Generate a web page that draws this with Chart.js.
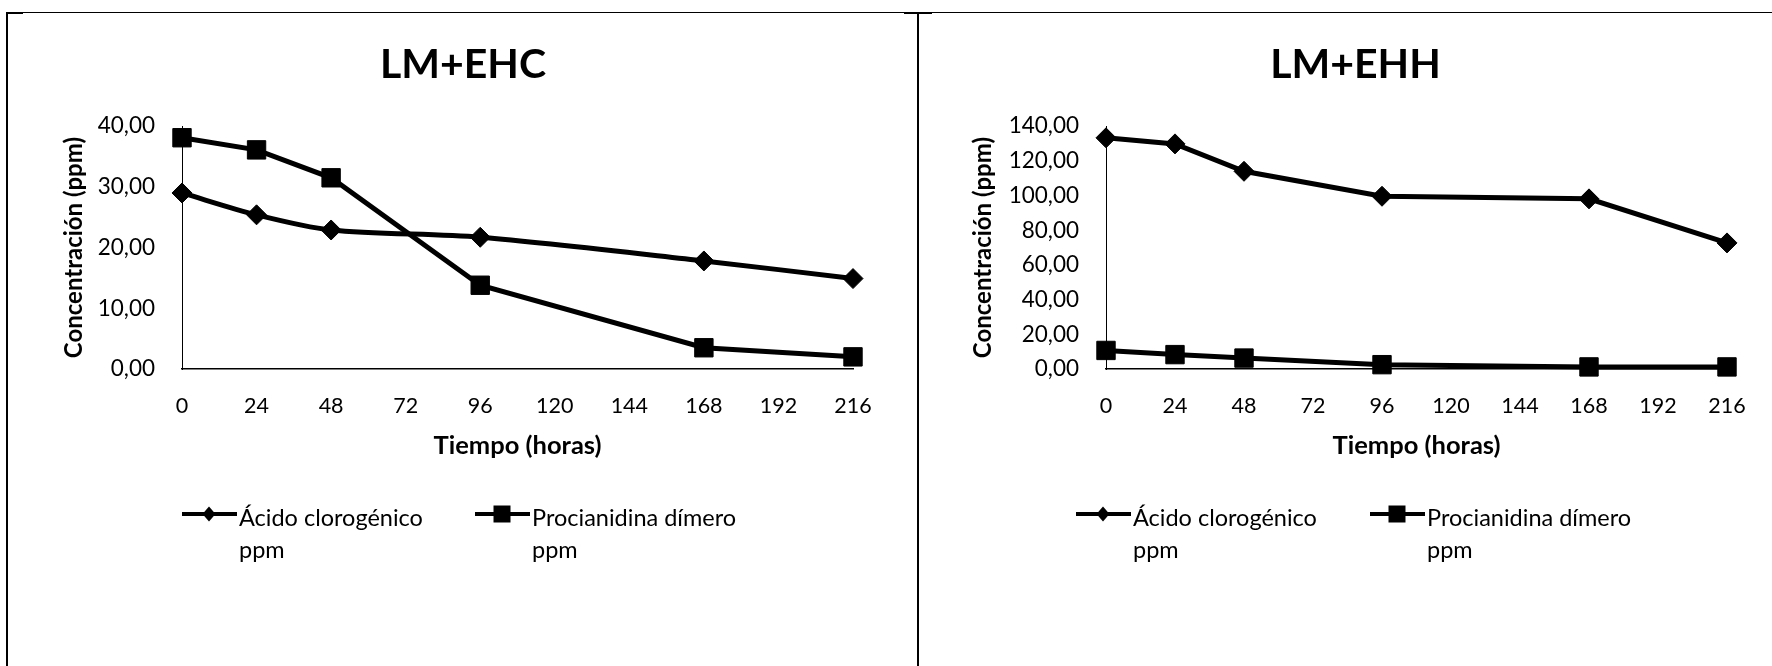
<!DOCTYPE html>
<html>
<head>
<meta charset="utf-8">
<script src="https://cdn.jsdelivr.net/npm/chart.js@4.4.1/dist/chart.umd.min.js"></script>
<style>
body{margin:0;width:1772px;height:666px;overflow:hidden;background:#fff;position:relative}
.box{position:absolute;top:13px;height:653px}
#boxL{left:8px;width:910px}
#boxR{left:919px;width:873px}
.ln{position:absolute;background:#000}
</style>
</head>
<body>
<div class="box" id="boxL"><canvas id="chartL" width="910" height="653"></canvas></div>
<div class="box" id="boxR"><canvas id="chartR" width="873" height="653"></canvas></div>
<!-- table borders -->
<div class="ln" style="left:7px;top:12px;width:1765px;height:1px"></div>
<div class="ln" style="left:6px;top:12px;width:2px;height:654px"></div>
<div class="ln" style="left:7px;top:12px;width:16px;height:2px"></div>
<div class="ln" style="left:917px;top:12px;width:2px;height:654px"></div>
<div class="ln" style="left:904px;top:12px;width:28px;height:2px"></div>
<script>
// horas de muestreo
var horas = [0, 24, 48, 96, 168, 216];
var titulos = ['LM+EHC', 'LM+EHH'];
var series = [['Ácido clorogénico', 'ppm'], ['Procianidina dímero', 'ppm']];

// LM+EHC
var acidoEHC = [29.0, 25.4, 22.9, 21.7, 17.8, 14.9];
var procEHC = [38.1, 36.1, 31.5, 13.8, 3.5, 2.0];
// LM+EHH
var acidoEHH = [133.3, 129.8, 114.0, 99.6, 98.1, 72.7];
var procEHH = [10.7, 8.3, 6.3, 2.5, 1.2, 1.2];

var yMaxEHC = 40, yStepEHC = 10;
var yMaxEHH = 140, yStepEHH = 20;

function toXY(vals){
    var pts = [];
    for(var i = 0; i < horas.length; i++){
        pts.push({x: horas[i], y: vals[i]});
    }
    return pts;
}

function coma(v){
    return v.toFixed(2).replace('.', ',');
}

// legend drawn by hand (two-line labels)
function makeLegend(startX, lineY){
    return {
        id: 'leyenda',
        afterDraw: function(chart){
            var ctx = chart.ctx;
            ctx.save();
            for(var i = 0; i < series.length; i++){
                var x0 = startX[i];
                ctx.strokeStyle = '#000';
                ctx.lineWidth = 4;
                ctx.beginPath();
                ctx.moveTo(x0, lineY);
                ctx.lineTo(x0 + 55, lineY);
                ctx.stroke();
                ctx.fillStyle = '#000';
                var cx = x0 + 27;
                ctx.beginPath();
                if(i == 0){
                    ctx.moveTo(cx, lineY - 7.5);
                    ctx.lineTo(cx + 6.5, lineY);
                    ctx.lineTo(cx, lineY + 7.5);
                    ctx.lineTo(cx - 6.5, lineY);
                }else{
                    ctx.rect(cx - 8.5, lineY - 8.5, 17, 17);
                }
                ctx.closePath();
                ctx.fill();
                ctx.font = '23.5px Lato';
                ctx.textBaseline = 'alphabetic';
                ctx.textAlign = 'left';
                ctx.fillText(series[i][0], x0 + 57, lineY + 12);
                ctx.fillText(series[i][1], x0 + 57, lineY + 44);
            }
            ctx.restore();
        }
    };
}

function buildChart(id, titulo, acido, proc, yMax, yStep, yTitlePad, tension, legendX){
    var ctx = document.getElementById(id).getContext('2d');
    return new Chart(ctx, {
        type: 'line',
        data: {
            datasets: [{
                label: series[0].join(' '),
                data: toXY(acido),
                borderColor: '#000',
                backgroundColor: '#000',
                borderWidth: 5,
                tension: tension,
                pointStyle: 'rectRot',
                pointRadius: 10,
                pointBorderWidth: 1,
                clip: false
            }, {
                label: series[1].join(' '),
                data: toXY(proc),
                borderColor: '#000',
                backgroundColor: '#000',
                borderWidth: 5,
                tension: 0,
                pointStyle: 'rect',
                pointRadius: 13,
                pointBorderWidth: 1,
                clip: false
            }]
        },
        options: {
            responsive: false,
            animation: false,
            layout: {padding: {left: 0, right: 0, top: 0, bottom: 197}},
            plugins: {
                legend: {display: false},
                tooltip: {enabled: false},
                title: {
                    display: true,
                    text: titulo,
                    color: '#000',
                    font: {family: 'Lato', size: 41, weight: 'bold'},
                    padding: {top: 27, bottom: 37}
                }
            },
            scales: {
                x: {
                    type: 'linear',
                    min: 0,
                    max: 216,
                    grid: {display: false, drawTicks: false},
                    border: {display: true, color: '#000', width: 1.5},
                    ticks: {stepSize: 24, color: '#000', padding: 24, font: {family: 'Lato', size: 21.5}},
                    title: {display: true, text: 'Tiempo (horas)', color: '#000', font: {family: 'Lato', size: 25.5, weight: 'bold'}, padding: {top: 0, bottom: 8}},
                    afterFit: function(s){ s.height = 100; }
                },
                y: {
                    min: 0,
                    max: yMax,
                    grid: {display: false, drawTicks: false},
                    border: {display: true, color: '#000', width: 1},
                    ticks: {stepSize: yStep, color: '#000', padding: 27, font: {family: 'Lato', size: 22.5}, callback: function(v){ return coma(v); }},
                    title: {display: true, text: 'Concentración (ppm)', color: '#000', font: {family: 'Lato', size: 24, weight: 'bold'}, padding: {top: yTitlePad, bottom: 0}},
                    afterFit: function(s){ s.width = (id == 'chartL') ? 174 : 187; }
                },
                pad: {
                    type: 'linear',
                    position: 'right',
                    display: true,
                    grid: {display: false, drawTicks: false},
                    border: {display: false},
                    ticks: {display: false},
                    afterFit: function(s){ s.width = 65; }
                }
            }
        },
        plugins: [makeLegend(legendX, 501)]
    });
}

buildChart('chartL', titulos[0], acidoEHC, procEHC, yMaxEHC, yStepEHC, 52, 0.3, [174, 467]);
buildChart('chartR', titulos[1], acidoEHH, procEHH, yMaxEHH, yStepEHH, 50, 0, [157, 451]);
</script>
</body>
</html>
